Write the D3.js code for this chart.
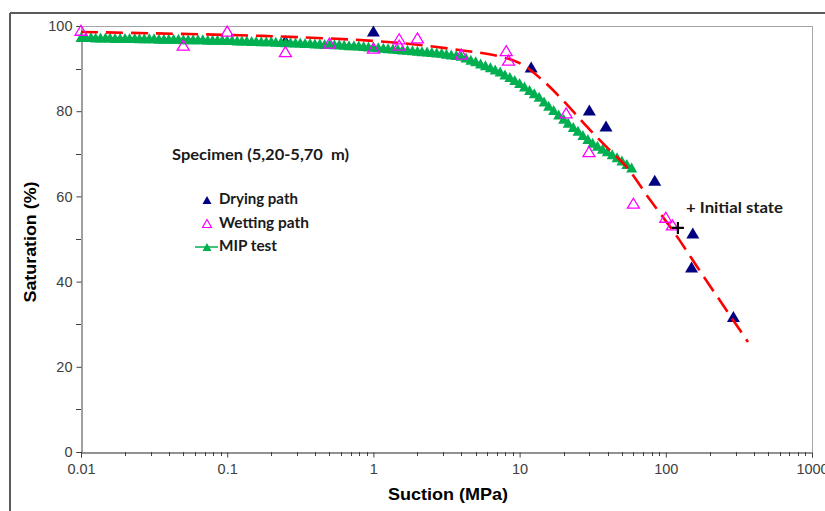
<!DOCTYPE html>
<html>
<head>
<meta charset="utf-8">
<script src="https://cdn.jsdelivr.net/npm/d3@7"></script>
<style>
  html, body { margin: 0; padding: 0; background: #fff; }
  svg { display: block; }
  text { white-space: pre; }
</style>
</head>
<body>
<svg id="chart" width="825" height="511"></svg>
<script>
// ---------- DATA ----------
const xTickValues = [0.01, 0.1, 1, 10, 100, 1000];
const xTickLabels = ["0.01", "0.1", "1", "10", "100", "1000"];
const yTickValues = [0, 20, 40, 60, 80, 100];
const yMinorTicks = [10, 30, 50, 70, 90];

const dryingSuction = [0.25, 1, 12, 30, 39, 84, 153, 150, 290];
const dryingSat     = [96.6, 98.8, 90.4, 80.3, 76.5, 63.8, 51.4, 43.4, 31.8];

const wettingSuction = [0.01, 0.05, 0.1, 0.25, 0.5, 1, 1.5, 1.5, 2, 4, 8.1, 8.4, 20.8, 29.8, 60, 100, 111];
const wettingSat     = [99.0, 95.5, 98.8, 94.0, 96.0, 94.8, 97.0, 95.5, 97.2, 93.4, 94.2, 92.0, 79.6, 70.5, 58.4, 55.1, 53.3];

const mipSuction = [
  0.0100,0.0108,0.0117,0.0126,0.0136,0.0147,0.0158,0.0171,0.0185,0.0200,
  0.0215,0.0233,0.0251,0.0271,0.0293,0.0316,0.0341,0.0369,0.0398,0.0430,
  0.0464,0.0501,0.0541,0.0584,0.0631,0.0681,0.0736,0.0794,0.0858,0.0926,
  0.100,0.108,0.117,0.126,0.136,0.147,0.158,0.171,0.185,0.200,
  0.215,0.233,0.251,0.271,0.293,0.316,0.341,0.369,0.398,0.430,
  0.464,0.501,0.541,0.584,0.631,0.681,0.736,0.794,0.858,0.926,
  1.00,1.08,1.17,1.26,1.36,1.47,1.58,1.71,1.85,2.00,
  2.15,2.33,2.51,2.71,2.93,3.16,3.41,3.69,3.98,4.30,
  4.64,5.01,5.41,5.84,6.31,6.81,7.36,7.94,8.58,9.26,
  10.0,10.8,11.7,12.6,13.6,14.7,15.8,17.1,18.5,20.0,
  21.5,23.3,25.1,27.1,29.3,31.6,34.1,36.9,39.8,43.0,
  46.4,50.1,54.1,58.4
];
const mipSat = [
  97.4,97.4,97.4,97.3,97.3,97.3,97.3,97.2,97.2,97.2,
  97.2,97.2,97.1,97.1,97.1,97.1,97.0,97.0,97.0,97.0,
  97.0,96.9,96.9,96.9,96.9,96.9,96.8,96.8,96.8,96.8,
  96.7,96.7,96.6,96.6,96.6,96.5,96.5,96.4,96.4,96.4,
  96.3,96.3,96.2,96.2,96.1,96.1,96.0,96.0,95.9,95.9,
  95.8,95.8,95.7,95.7,95.6,95.5,95.5,95.4,95.3,95.2,
  95.1,95.0,94.9,94.8,94.7,94.6,94.5,94.4,94.3,94.2,
  94.1,94.0,93.9,93.8,93.7,93.5,93.3,93.2,93.0,92.6,
  92.1,91.7,91.2,90.8,90.3,89.8,89.3,88.6,88.0,87.3,
  86.6,85.8,85.0,84.2,83.4,82.3,81.3,80.3,79.2,78.2,
  77.3,76.3,75.4,74.4,73.5,72.6,71.9,71.2,70.6,69.9,
  69.2,68.4,67.6,66.8
];

const fitSuction = [0.01, 0.03, 0.1, 0.3, 1, 2, 4, 7, 10, 14, 20, 29, 41, 54, 78, 116, 171, 254, 365];
const fitSat     = [98.6, 98.3, 97.9, 97.4, 96.5, 95.6, 94.3, 93.0, 91.3, 87.6, 82.4, 76.3, 71.0, 66.9, 59.2, 51.2, 42.5, 33.8, 25.8];

const initialSuction = [121];
const initialSat = [52.6];

const legendLabels = ["Drying path", "Wetting path", "MIP test"];
const specimenLabel = "Specimen (5,20-5,70  m)";
const initialLabel = "+ Initial state";

// ---------- CHART ----------
const svg = d3.select("#chart");
const W = 825, H = 511;
const L = 81, R = 812, T = 26, B = 452;

const x = d3.scaleLog().domain([0.01, 1000]).range([L, R]);
const y = d3.scaleLinear().domain([0, 100]).range([B, T]);

const navy = "#000080", magenta = "#FF00FF", green = "#00B050", red = "#FF0000";
const legendFont = "Lato, 'Open Sans', sans-serif";
const axisFont = "'Liberation Sans', Arial, sans-serif";

// outer frame (top & left visible)
svg.append("line").attr("x1", 10).attr("y1", 13).attr("x2", W).attr("y2", 13)
  .attr("stroke", "#5a5a5a").attr("stroke-width", 2);
svg.append("line").attr("x1", 10).attr("y1", 13).attr("x2", 10).attr("y2", H)
  .attr("stroke", "#5a5a5a").attr("stroke-width", 2);

// plot border (top & right, gray)
svg.append("line").attr("x1", L).attr("y1", T + 0.5).attr("x2", R + 0.5).attr("y2", T + 0.5)
  .attr("stroke", "#a6a6a6").attr("stroke-width", 1);
svg.append("line").attr("x1", R + 0.5).attr("y1", T).attr("x2", R + 0.5).attr("y2", B)
  .attr("stroke", "#a6a6a6").attr("stroke-width", 1);

// Y axis
const yAxis = d3.axisLeft(y).tickValues(yTickValues).tickSize(5).tickPadding(4).tickFormat(d3.format("d"));
const gy = svg.append("g").attr("transform", `translate(${L + 0.5},0)`).call(yAxis);
gy.select(".domain").attr("stroke", "#404040");
gy.selectAll(".tick line").attr("stroke", "#404040");
gy.selectAll(".tick text").attr("font-family", axisFont).attr("font-size", 14.5).attr("fill", "#404040");
svg.append("g").selectAll("line").data(yMinorTicks).join("line")
  .attr("x1", L - 5).attr("x2", L).attr("y1", d => Math.round(y(d)) + 0.5).attr("y2", d => Math.round(y(d)) + 0.5)
  .attr("stroke", "#404040");

// X axis
const xAxis = d3.axisBottom(x).tickValues(xTickValues).tickSize(5).tickPadding(6)
  .tickFormat((d, i) => xTickLabels[i]);
const gx = svg.append("g").attr("transform", `translate(0,${B + 0.5})`).call(xAxis);
gx.select(".domain").attr("stroke", "#262626");
gx.selectAll(".tick line").attr("stroke", "#404040");
gx.selectAll(".tick text").attr("font-family", axisFont).attr("font-size", 14.5).attr("fill", "#404040");
const xMinor = [];
for (let e = -2; e < 3; e++) for (let m = 2; m <= 9; m++) xMinor.push(m * Math.pow(10, e));
svg.append("g").selectAll("line").data(xMinor).join("line")
  .attr("x1", d => Math.round(x(d)) + 0.5).attr("x2", d => Math.round(x(d)) + 0.5)
  .attr("y1", B).attr("y2", B + 4).attr("stroke", "#404040");

// axis titles
svg.append("text").attr("transform", `translate(36,242) rotate(-90)`)
  .attr("text-anchor", "middle").attr("font-family", axisFont).attr("font-weight", "bold")
  .attr("font-size", 17).attr("fill", "#000")
  .attr("textLength", 121).attr("lengthAdjust", "spacingAndGlyphs")
  .text("Saturation (%)");
svg.append("text").attr("x", 448).attr("y", 500)
  .attr("text-anchor", "middle").attr("font-family", axisFont).attr("font-weight", "bold")
  .attr("font-size", 17).attr("fill", "#000")
  .attr("textLength", 120).attr("lengthAdjust", "spacingAndGlyphs")
  .text("Suction (MPa)");

// marker paths
const tri = (w, h) => `M0,${-h / 2}L${w / 2},${h / 2}L${-w / 2},${h / 2}Z`;

// drying points
const dryData = dryingSuction.map((s, i) => ({ s, v: dryingSat[i] }));
svg.append("g").selectAll("path").data(dryData).join("path")
  .attr("d", tri(13, 11))
  .attr("transform", d => `translate(${x(d.s)},${y(d.v)})`)
  .attr("fill", navy);

// MIP
const mipData = mipSuction.map((s, i) => ({ s, v: mipSat[i] }));
svg.append("path").datum(mipData)
  .attr("d", d3.line().x(d => x(d.s)).y(d => y(d.v)))
  .attr("fill", "none").attr("stroke", green).attr("stroke-width", 1.2);
svg.append("g").selectAll("path").data(mipData).join("path")
  .attr("d", tri(11, 10))
  .attr("transform", d => `translate(${x(d.s)},${y(d.v)})`)
  .attr("fill", green);

// fitted curve
const fitData = fitSuction.map((s, i) => ({ s, v: fitSat[i] }));
svg.append("path").datum(fitData)
  .attr("d", d3.line().x(d => x(d.s)).y(d => y(d.v)).curve(d3.curveCatmullRom))
  .attr("fill", "none").attr("stroke", red).attr("stroke-width", 2.6)
  .attr("stroke-dasharray", "17,8");

// wetting points
const wetData = wettingSuction.map((s, i) => ({ s, v: wettingSat[i] }));
svg.append("g").selectAll("path").data(wetData).join("path")
  .attr("d", tri(12, 10))
  .attr("transform", d => `translate(${x(d.s)},${y(d.v)})`)
  .attr("fill", "none").attr("stroke", magenta).attr("stroke-width", 1.3);

// initial state cross
const initData = initialSuction.map((s, i) => ({ s, v: initialSat[i] }));
svg.append("g").selectAll("path").data(initData).join("path")
  .attr("d", "M-6,0H6M0,-6V6")
  .attr("transform", d => `translate(${x(d.s)},${y(d.v)})`)
  .attr("stroke", "#000").attr("stroke-width", 2.2).attr("fill", "none");

// annotation text
svg.append("text").attr("x", 686).attr("y", 213)
  .attr("font-family", legendFont).attr("font-weight", "bold").attr("font-size", 16)
  .attr("fill", "#1a1a1a").attr("textLength", 97).attr("lengthAdjust", "spacingAndGlyphs")
  .text(initialLabel);

svg.append("text").attr("x", 172).attr("y", 160)
  .attr("font-family", legendFont).attr("font-weight", "bold").attr("font-size", 16)
  .attr("fill", "#1a1a1a").attr("textLength", 177).attr("lengthAdjust", "spacingAndGlyphs")
  .text(specimenLabel);

// legend
const lg = svg.append("g");
const ly = [200, 223.5, 247];
const lLen = [79, 90, 58];
lg.append("path").attr("d", tri(9, 8)).attr("transform", `translate(207,${ly[0]})`).attr("fill", navy);
lg.append("path").attr("d", tri(9, 8)).attr("transform", `translate(207,${ly[1]})`)
  .attr("fill", "none").attr("stroke", magenta).attr("stroke-width", 1.2);
lg.append("line").attr("x1", 195).attr("x2", 218).attr("y1", ly[2]).attr("y2", ly[2])
  .attr("stroke", green).attr("stroke-width", 1.5);
lg.append("path").attr("d", tri(9, 8)).attr("transform", `translate(207,${ly[2]})`).attr("fill", green);
lg.selectAll("text").data(legendLabels).join("text")
  .attr("x", 219).attr("y", (d, i) => ly[i] + 4)
  .attr("font-family", legendFont).attr("font-weight", "bold").attr("font-size", 16)
  .attr("fill", "#1a1a1a")
  .attr("textLength", (d, i) => lLen[i]).attr("lengthAdjust", "spacingAndGlyphs")
  .text(d => d);
</script>
</body>
</html>
